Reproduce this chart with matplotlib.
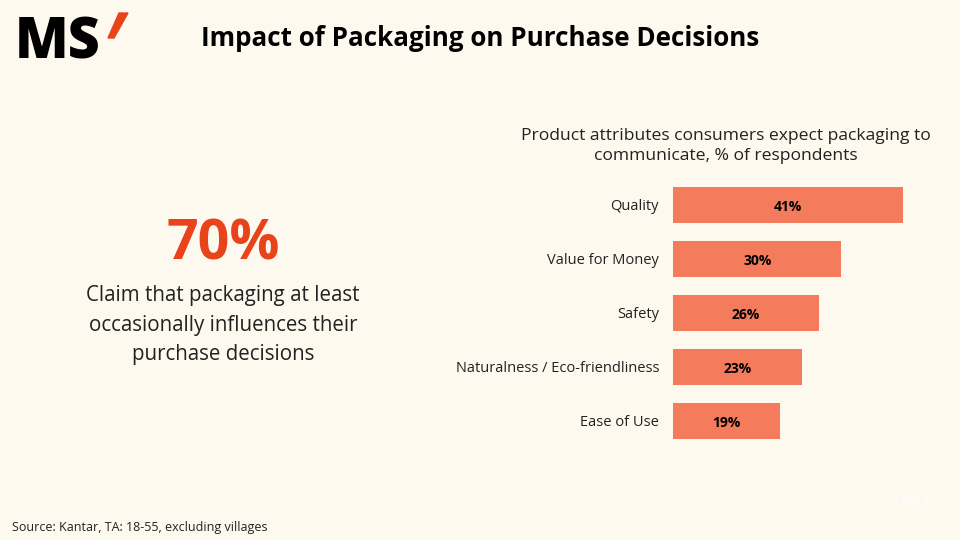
import matplotlib.pyplot as plt
from matplotlib.patches import Polygon

bg = "#fef9ee"
bar_color = "#f47c5c"
accent = "#e8431b"

categories = ["Quality", "Value for Money", "Safety", "Naturalness / Eco-friendliness", "Ease of Use"]
values = [41, 30, 26, 23, 19]

plt.rcParams["font.family"] = ["Open Sans", "DejaVu Sans"]

fig = plt.figure(figsize=(9.6, 5.4), dpi=100, facecolor=bg)

# bar chart
ax = fig.add_axes([673 / 960, 92 / 540, 230 / 960, 270 / 540])
ax.set_facecolor(bg)
y = list(range(len(categories)))
bars = ax.barh(y, values, height=0.65, color=bar_color)
for b, v in zip(bars, values):
    ax.text(b.get_width() / 2, b.get_y() + b.get_height() / 2 + 0.03, f"{v}%",
            ha="center", va="center", fontsize=10, fontweight="bold", color="black")
ax.set_xlim(0, 41)
ax.set_ylim(4.5, -0.5)
ax.set_yticks(y)
ax.set_yticklabels(categories, fontsize=10.5, color="#222222")
ax.tick_params(axis="y", length=0, pad=10)
ax.set_xticks([])
for s in ax.spines.values():
    s.set_visible(False)

# texts
fig.text(480 / 960, 1 - 39 / 540, "Impact of Packaging on Purchase Decisions",
         ha="center", va="center", fontsize=18.7, fontweight="bold", color="black")
fig.text(726 / 960, 1 - 146 / 540,
         "Product attributes consumers expect packaging to\ncommunicate, % of respondents",
         ha="center", va="center", fontsize=12.6, color="#222222", linespacing=1.3)
fig.text(223 / 960, 1 - 245 / 540, "70%", ha="center", va="center",
         fontsize=40, fontweight="bold", color=accent)
fig.text(223 / 960, 1 - 325 / 540,
         "Claim that packaging at least\noccasionally influences their\npurchase decisions",
         ha="center", va="center", fontsize=14.8, color="#222222", linespacing=1.55)
fig.text(12 / 960, 1 - 528 / 540, "Source: Kantar, TA: 18-55, excluding villages",
         ha="left", va="center", fontsize=9, color="#222222")
fig.text(912 / 960, 1 - 500 / 540, "Page 1", ha="center", va="center",
         fontsize=8, color="white")

# logo
fig.text(15 / 960, 1 - 44 / 540, "MS", ha="left", va="center",
         fontsize=40, fontweight="heavy", color="black")
fig.patches.append(Polygon([(119 / 960, 1 - 13 / 540), (128 / 960, 1 - 13 / 540),
                            (114 / 960, 1 - 38 / 540), (108 / 960, 1 - 38 / 540)],
                           closed=True, transform=fig.transFigure, color=accent))

fig.savefig("out.png", dpi=100, facecolor=bg)
